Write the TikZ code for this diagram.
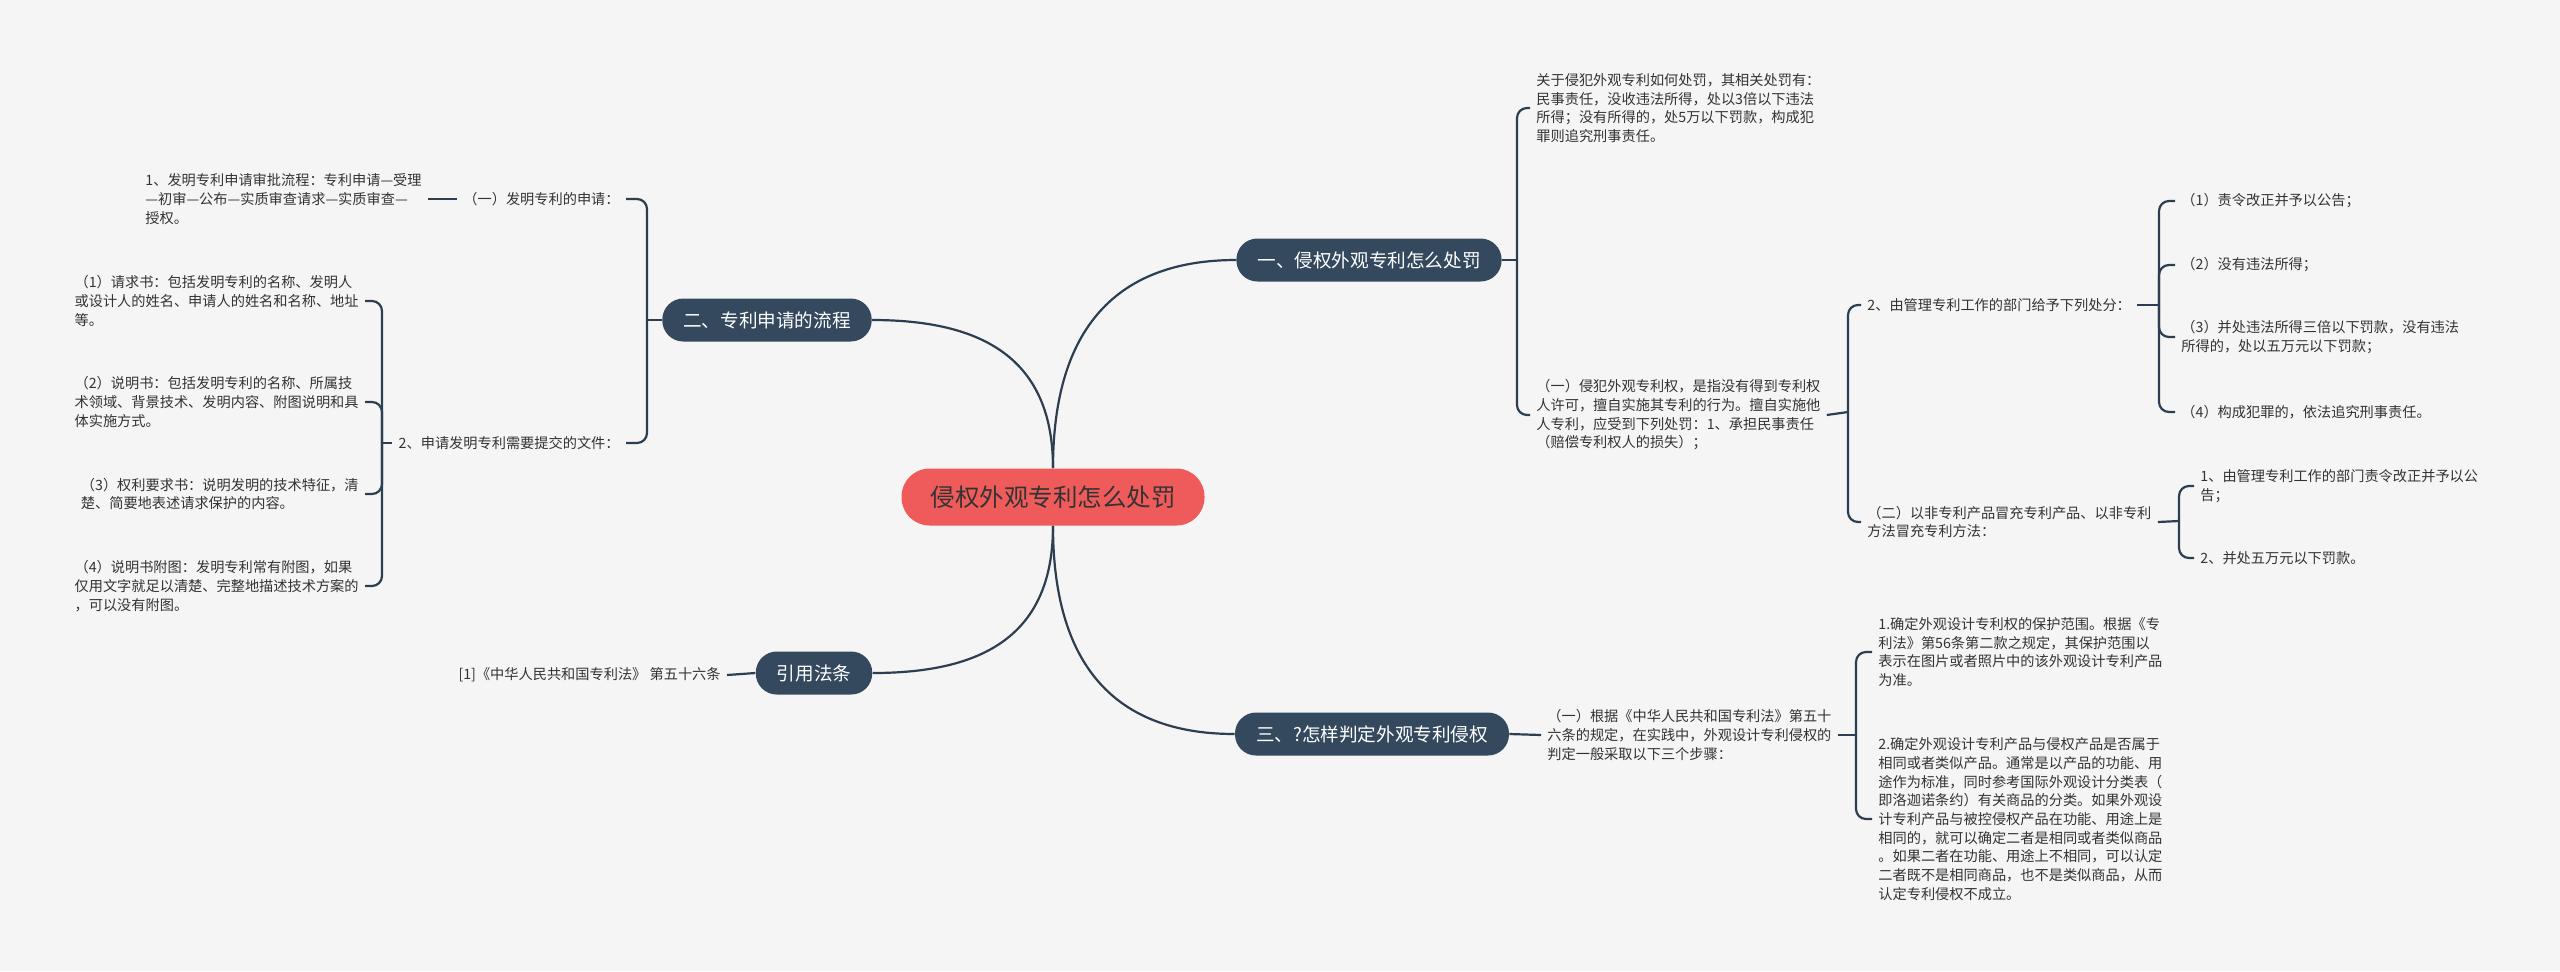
\documentclass[tikz,border=0pt]{standalone}
\usepackage{fontspec}
\setmainfont{Noto Sans CJK SC}
\usepackage{xcolor}
\usepackage{tikz}
\usetikzlibrary{positioning}
\definecolor{bgc}{HTML}{F5F5F5}
\definecolor{linec}{HTML}{2C3E50}
\definecolor{branchc}{HTML}{34495E}
\definecolor{rootc}{HTML}{EF5B5B}
\definecolor{textc}{HTML}{333333}
\tikzstyle{root} = [rectangle, rounded corners=14pt, minimum height=28.5pt, inner xsep=14.5pt, fill=rootc, text=textc, font=\fontsize{12.25pt}{14pt}\selectfont]
\tikzstyle{branch} = [rectangle, rounded corners=10.5pt, minimum height=21.5pt, inner xsep=10.5pt, fill=branchc, text=white, font=\fontsize{9.3pt}{11pt}\selectfont]
\tikzstyle{leaf} = [align=left, inner xsep=3pt, inner ysep=1pt, text=textc, font=\fontsize{7.1pt}{9.35pt}\selectfont]
\tikzstyle{link} = [draw=linec, line width=1.1pt]
\tikzstyle{bracket} = [link, rounded corners=5pt]

\begin{document}
\begin{tikzpicture}[x=0.5pt, y=-0.5pt]
        \fill [bgc] (0,0) rectangle (2560,971);

        \node [root] (root) at (1053,497) {侵权外观专利怎么处罚};

        \node [branch] (b1) at (1369,260) {一、侵权外观专利怎么处罚};
        \node [branch] (b2) at (767,320) {二、专利申请的流程};
        \node [branch] (b3) at (814,673) {引用法条};
        \node [branch] (b4) at (1372,734) {三、?怎样判定外观专利侵权};

        \draw [link] (root.north) .. controls +(0,-150) and +(-110,0) .. (b1.west);
        \draw [link] (root.north) .. controls +(0,-110) and +(110,0) .. (b2.east);
        \draw [link] (root.south) .. controls +(0,110) and +(110,0) .. (b3.east);
        \draw [link] (root.south) .. controls +(0,150) and +(-110,0) .. (b4.west);

        \node [leaf, anchor=west] (c1) at (1530,108) {关于侵犯外观专利如何处罚，其相关处罚有：\\民事责任，没收违法所得，处以3倍以下违法\\所得；没有所得的，处5万以下罚款，构成犯\\罪则追究刑事责任。};
        \node [leaf, anchor=west] (c2) at (1530,415) {（一）侵犯外观专利权，是指没有得到专利权\\人许可，擅自实施其专利的行为。擅自实施他\\人专利，应受到下列处罚：1、承担民事责任\\（赔偿专利权人的损失）；};
        \node [leaf, anchor=west] (d1) at (1861,305) {2、由管理专利工作的部门给予下列处分：};
        \node [leaf, anchor=west] (d2) at (1861,522) {（二）以非专利产品冒充专利产品、以非专利\\方法冒充专利方法：};
        \node [leaf, anchor=west] (e1) at (2175,201) {（1）责令改正并予以公告；};
        \node [leaf, anchor=west] (e2) at (2175,265) {（2）没有违法所得；};
        \node [leaf, anchor=west] (e3) at (2175,337) {（3）并处违法所得三倍以下罚款，没有违法\\所得的，处以五万元以下罚款；};
        \node [leaf, anchor=west] (e4) at (2175,412) {（4）构成犯罪的，依法追究刑事责任。};
        \node [leaf, anchor=west] (f1) at (2194,486) {1、由管理专利工作的部门责令改正并予以公\\告；};
        \node [leaf, anchor=west] (f2) at (2194,558) {2、并处五万元以下罚款。};

        \coordinate (jb1) at (1517,260);
        \coordinate (jc2) at (1848,412);
        \coordinate (jd1) at (2159,305);
        \coordinate (jd2) at (2179,521);
        \draw [link] (b1.east) -- (jb1);
        \draw [bracket] (jb1) |- (c1.west);
        \draw [bracket] (jb1) |- (c2.west);
        \draw [link] (c2.east) -- (jc2);
        \draw [bracket] (jc2) |- (d1.west);
        \draw [bracket] (jc2) |- (d2.west);
        \draw [link] (d1.east) -- (jd1);
        \draw [bracket] (jd1) |- (e1.west);
        \draw [bracket] (jd1) |- (e2.west);
        \draw [bracket] (jd1) |- (e3.west);
        \draw [bracket] (jd1) |- (e4.west);
        \draw [link] (d2.east) -- (jd2);
        \draw [bracket] (jd2) |- (f1.west);
        \draw [bracket] (jd2) |- (f2.west);

        \node [leaf, anchor=west] (g1) at (1541,735) {（一）根据《中华人民共和国专利法》第五十\\六条的规定，在实践中，外观设计专利侵权的\\判定一般采取以下三个步骤：};
        \node [leaf, anchor=west] (h1) at (1872,652) {1.确定外观设计专利权的保护范围。根据《专\\利法》第56条第二款之规定，其保护范围以\\表示在图片或者照片中的该外观设计专利产品\\为准。};
        \node [leaf, anchor=west] (h2) at (1872,819) {2.确定外观设计专利产品与侵权产品是否属于\\相同或者类似产品。通常是以产品的功能、用\\途作为标准，同时参考国际外观设计分类表（\\即洛迦诺条约）有关商品的分类。如果外观设\\计专利产品与被控侵权产品在功能、用途上是\\相同的，就可以确定二者是相同或者类似商品\\。如果二者在功能、用途上不相同，可以认定\\二者既不是相同商品，也不是类似商品，从而\\认定专利侵权不成立。};

        \coordinate (jg1) at (1856,735);
        \draw [link] (b4.east) -- (g1.west);
        \draw [link] (g1.east) -- (jg1);
        \draw [bracket] (jg1) |- (h1.west);
        \draw [bracket] (jg1) |- (h2.west);

        \node [leaf, anchor=east] (a1) at (626,199) {（一）发明专利的申请：};
        \node [leaf, anchor=east] (a2) at (626,443) {2、申请发明专利需要提交的文件：};
        \node [leaf, anchor=east] (a11) at (428,199) {1、发明专利申请审批流程：专利申请—受理\\—初审—公布—实质审查请求—实质审查—\\授权。};
        \node [leaf, anchor=east] (a21) at (365,301) {（1）请求书：包括发明专利的名称、发明人\\或设计人的姓名、申请人的姓名和名称、地址\\等。};
        \node [leaf, anchor=east] (a22) at (365,402) {（2）说明书：包括发明专利的名称、所属技\\术领域、背景技术、发明内容、附图说明和具\\体实施方式。};
        \node [leaf, anchor=east] (a23) at (365,494) {（3）权利要求书：说明发明的技术特征，清\\楚、简要地表述请求保护的内容。};
        \node [leaf, anchor=east] (a24) at (365,586) {（4）说明书附图：发明专利常有附图，如果\\仅用文字就足以清楚、完整地描述技术方案的\\，可以没有附图。};

        \coordinate (jb2) at (647,320);
        \coordinate (ja2) at (382,443);
        \draw [link] (b2.west) -- (jb2);
        \draw [bracket] (jb2) |- (a1.east);
        \draw [bracket] (jb2) |- (a2.east);
        \draw [link] (a1.west) -- (a11.east);
        \draw [link] (a2.west) -- (ja2);
        \draw [bracket] (ja2) |- (a21.east);
        \draw [bracket] (ja2) |- (a22.east);
        \draw [bracket] (ja2) |- (a23.east);
        \draw [bracket] (ja2) |- (a24.east);

        \node [leaf, anchor=east] (r1) at (727,675) {[1]《中华人民共和国专利法》 第五十六条};
        \draw [link] (b3.west) -- (r1.east);
\end{tikzpicture}
\end{document}
